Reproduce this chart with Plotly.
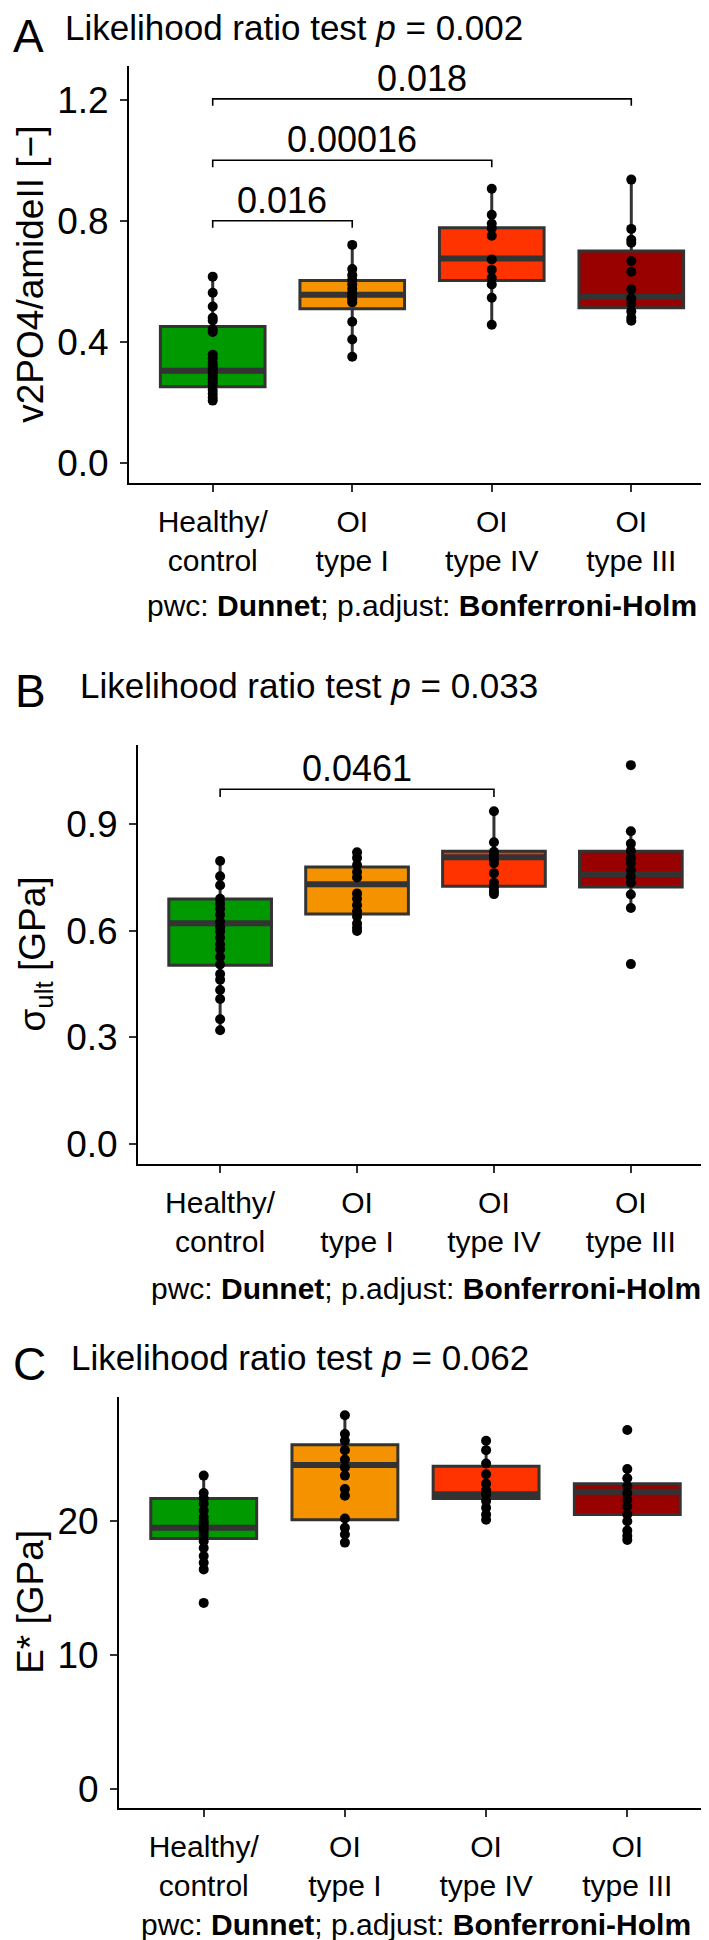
import plotly.graph_objects as go

# ---------------- data ----------------
categories = ["Healthy/<br>control", "OI<br>type I", "OI<br>type IV", "OI<br>type III"]
fill_colors = ["#009900", "#F59200", "#FF3300", "#990000"]

# Panel A: v2PO4/amideII
A_q1 = [0.251, 0.509, 0.602, 0.512]
A_med = [0.304, 0.555, 0.675, 0.548]
A_q3 = [0.450, 0.602, 0.777, 0.700]
A_lo = [0.205, 0.350, 0.456, 0.469]
A_hi = [0.615, 0.720, 0.906, 0.936]
A_pts_healthy = [0.615, 0.562, 0.516, 0.479, 0.470, 0.440, 0.432, 0.357, 0.345, 0.330, 0.320,
                 0.312, 0.303, 0.295, 0.285, 0.275, 0.265, 0.255, 0.240, 0.228, 0.215, 0.205]
A_pts_type1 = [0.720, 0.640, 0.620, 0.605, 0.590, 0.575, 0.560, 0.550, 0.540, 0.530, 0.466, 0.407, 0.350]
A_pts_type4 = [0.906, 0.820, 0.790, 0.775, 0.750, 0.672, 0.638, 0.610, 0.589, 0.545, 0.456]
A_pts_type3 = [0.936, 0.773, 0.737, 0.727, 0.667, 0.631, 0.573, 0.543, 0.525, 0.500, 0.479, 0.469]
A_brackets = [(1, 2, 0.800, "0.016"), (1, 3, 1.000, "0.00016"), (1, 4, 1.203, "0.018")]

# Panel B: sigma_ult
B_q1 = [0.503, 0.647, 0.725, 0.723]
B_med = [0.621, 0.731, 0.807, 0.759]
B_q3 = [0.689, 0.779, 0.824, 0.824]
B_lo = [0.320, 0.599, 0.703, 0.664]
B_hi = [0.796, 0.821, 0.936, 0.880]
B_pts_healthy = [0.796, 0.753, 0.728, 0.690, 0.676, 0.662, 0.645, 0.625, 0.610, 0.598, 0.580,
                 0.562, 0.548, 0.526, 0.505, 0.478, 0.462, 0.433, 0.408, 0.351, 0.320]
B_pts_type1 = [0.821, 0.805, 0.785, 0.765, 0.750, 0.705, 0.690, 0.672, 0.655, 0.640, 0.620, 0.608, 0.599]
B_pts_type4 = [0.936, 0.849, 0.822, 0.812, 0.800, 0.790, 0.762, 0.735, 0.722, 0.712, 0.703]
B_pts_type3 = [1.066, 0.880, 0.845, 0.825, 0.805, 0.790, 0.770, 0.752, 0.735, 0.702, 0.664, 0.506]
B_brackets = [(1, 3, 0.998, "0.0461")]

# Panel C: E*
C_q1 = [18.7, 20.1, 21.7, 20.5]
C_med = [19.5, 24.2, 22.0, 22.2]
C_q3 = [21.7, 25.7, 24.1, 22.8]
C_lo = [16.4, 18.4, 20.1, 18.6]
C_hi = [23.4, 27.9, 26.0, 23.9]
C_pts_healthy = [23.4, 22.1, 21.7, 21.3, 20.8, 20.3, 20.0, 19.8, 19.5, 19.2, 18.9, 18.5, 18.0,
                 17.4, 16.9, 16.4, 13.9]
C_pts_type1 = [27.9, 26.5, 26.0, 25.3, 24.6, 24.0, 23.4, 22.4, 21.9, 20.2, 19.5, 19.0, 18.4]
C_pts_type4 = [26.0, 25.3, 24.3, 23.5, 22.8, 22.3, 22.0, 21.5, 21.0, 20.5, 20.1]
C_pts_type3 = [26.8, 23.9, 23.2, 22.6, 22.1, 21.6, 21.1, 20.5, 20.0, 19.3, 18.9, 18.6]
C_brackets = []

panels = [
    dict(letter="A", pval="0.002", q1=A_q1, med=A_med, q3=A_q3, lo=A_lo, hi=A_hi,
         pts=[A_pts_healthy, A_pts_type1, A_pts_type4, A_pts_type3], br=A_brackets,
         ytitle="v2PO4/amideII [\u2212]", yticks=[0, 0.4, 0.8, 1.2], yfmt=".1f",
         yrange=[-0.066, 1.312], tip=0.023),
    dict(letter="B", pval="0.033", q1=B_q1, med=B_med, q3=B_q3, lo=B_lo, hi=B_hi,
         pts=[B_pts_healthy, B_pts_type1, B_pts_type4, B_pts_type3], br=B_brackets,
         ytitle="\u03c3<sub>ult</sub> [GPa]", yticks=[0, 0.3, 0.6, 0.9], yfmt=".1f",
         yrange=[-0.056, 1.122], tip=0.022),
    dict(letter="C", pval="0.062", q1=C_q1, med=C_med, q3=C_q3, lo=C_lo, hi=C_hi,
         pts=[C_pts_healthy, C_pts_type1, C_pts_type4, C_pts_type3], br=C_brackets,
         ytitle="E* [GPa]", yticks=[0, 10, 20], yfmt="d",
         yrange=[-1.42, 29.3], tip=0.5),
]

# ---------------- layout geometry (pixels) ----------------
W, H = 709, 1940
geom = [  # x0, x1, ytop, ybot, title_y, letter_top, letter_x, title_x, caption_y, ytitle_x
    (121, 707, 58, 475, 20, 0, 3, 55, 598, 0),
    (130, 705, 738, 1157, 678, 656, 5, 70, 1282, 2),
    (111, 704, 1390, 1802, 1351, 1329, 3, 61, 1918, 0),
]

FONT = "Liberation Sans, Arial, sans-serif"
BOXW = 0.75

fig = go.Figure()
annotations = []
layout_axes = {}

for pi, (p, g) in enumerate(zip(panels, geom)):
    x0, x1, yt, yb, ty, ltop, lx, tx, cy, ytx = g
    sfx = "" if pi == 0 else str(pi + 1)
    xa, ya = "x" + sfx, "y" + sfx
    pos = [1, 2, 3, 4]
    for i in range(4):
        fig.add_trace(go.Box(
            x=[pos[i]], q1=[p["q1"][i]], median=[p["med"][i]], q3=[p["q3"][i]],
            lowerfence=[p["lo"][i]], upperfence=[p["hi"][i]],
            width=BOXW, fillcolor=fill_colors[i], line=dict(color="#333333", width=3),
            whiskerwidth=0, boxpoints=False, hoverinfo="skip",
            xaxis=xa, yaxis=ya))
        # thick median bar (ggplot style)
        fig.add_trace(go.Scatter(
            x=[pos[i] - BOXW / 2, pos[i] + BOXW / 2], y=[p["med"][i], p["med"][i]],
            mode="lines", line=dict(color="#333333", width=6), hoverinfo="skip",
            xaxis=xa, yaxis=ya))
    for i in range(4):
        fig.add_trace(go.Scatter(
            x=[pos[i]] * len(p["pts"][i]), y=p["pts"][i], mode="markers",
            marker=dict(color="black", size=10), hoverinfo="skip",
            xaxis=xa, yaxis=ya))
    for (a, b, yv, lab) in p["br"]:
        fig.add_trace(go.Scatter(
            x=[a, a, b, b], y=[yv - p["tip"], yv, yv, yv - p["tip"]], mode="lines",
            line=dict(color="black", width=1.6), hoverinfo="skip",
            xaxis=xa, yaxis=ya))
        annotations.append(dict(x=(a + b) / 2, y=yv, xref=xa, yref=ya, text=lab,
                                showarrow=False, yanchor="bottom", yshift=-2,
                                font=dict(family=FONT, size=36, color="black")))

    xdom = [x0 / W, x1 / W]
    ydom = [1 - yb / H, 1 - yt / H]
    axcommon = dict(showline=True, linecolor="black", linewidth=2, ticks="outside",
                    ticklen=7, tickwidth=2, tickcolor="#333333", showgrid=False,
                    zeroline=False, mirror=False)
    layout_axes["xaxis" + sfx] = dict(axcommon, domain=xdom, anchor=ya, range=[0.4, 4.6],
                                      tickvals=pos, ticktext=categories,
                                      tickfont=dict(family=FONT, size=30, color="black"),
                                      ticklabelstandoff=4)
    layout_axes["yaxis" + sfx] = dict(axcommon, domain=ydom, anchor=xa, range=p["yrange"],
                                      tickvals=p["yticks"], tickformat=p["yfmt"],
                                      tickfont=dict(family=FONT, size=37, color="black"),
                                      ticklabelstandoff=4)
    # panel letter + title
    annotations.append(dict(x=lx / W, y=1 - ltop / H, xref="paper", yref="paper",
                            text=p["letter"], showarrow=False, xanchor="left",
                            yanchor="top", font=dict(family=FONT, size=46, color="black")))
    annotations.append(dict(x=tx / W, y=1 - ty / H, xref="paper", yref="paper",
                            text="Likelihood ratio test <i>p</i> = " + p["pval"],
                            showarrow=False, xanchor="left", yanchor="middle",
                            font=dict(family=FONT, size=35, color="black")))
    # caption
    annotations.append(dict(x=((x0 + x1) / 2) / W, y=1 - cy / H, xref="paper", yref="paper",
                            text="pwc: <b>Dunnet</b>; p.adjust: <b>Bonferroni-Holm</b>",
                            showarrow=False, xanchor="center", yanchor="middle",
                            font=dict(family=FONT, size=30, color="black")))
    # y-axis title
    annotations.append(dict(x=ytx / W, y=1 - ((yt + yb) / 2) / H, xref="paper", yref="paper",
                            text=p["ytitle"], textangle=-90, showarrow=False,
                            xanchor="left", yanchor="middle",
                            font=dict(family=FONT, size=37, color="black")))

fig.update_layout(
    width=W, height=H, margin=dict(l=0, r=0, t=0, b=0),
    paper_bgcolor="white", plot_bgcolor="white", showlegend=False,
    boxmode="overlay", annotations=annotations, **layout_axes)

fig.write_html("out.html")
